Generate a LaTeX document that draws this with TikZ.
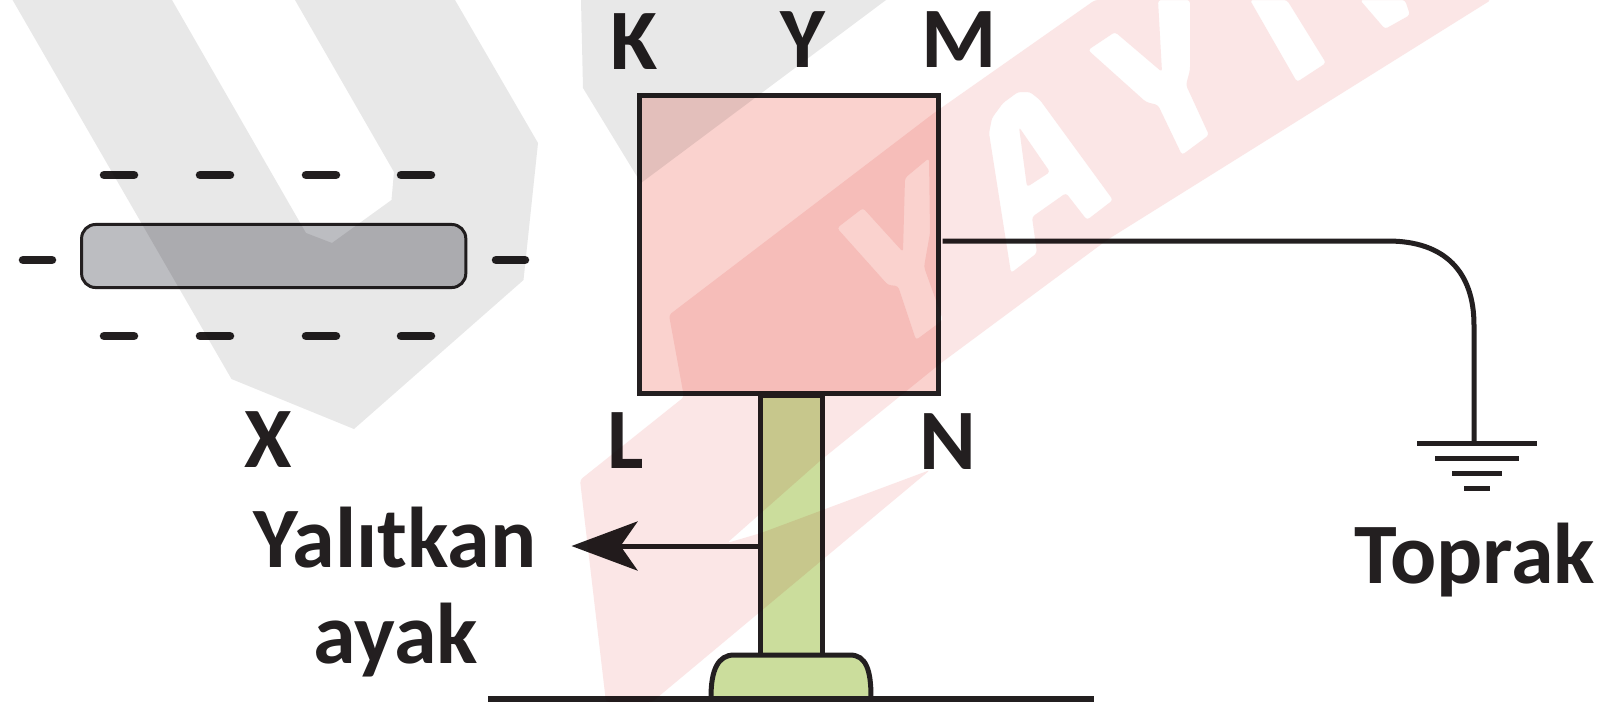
\documentclass[tikz,border=0pt]{standalone}
\usepackage{fontspec}
\setmainfont{Carlito}
\usetikzlibrary{arrows.meta}

\begin{document}
\begin{tikzpicture}[x=0.01cm,y=-0.01cm,
    label/.style={inner sep=0pt,anchor=base,text=inkblack,font=\bfseries\fontsize{24.5}{25}\selectfont},
    longlabel/.style={label},
    plate/.style={draw=inkblack,line width=0.5mm,fill=platepink,minimum width=2.98cm,minimum height=2.98cm,inner sep=0pt},
    rod/.style={draw=inkblack,line width=0.5mm,fill=rodgreen,minimum width=0.61cm,minimum height=2.59cm,inner sep=0pt},
    bar/.style={draw=inkblack,line width=0.3mm,fill=bargray,rounded corners=0.14cm,minimum width=3.84cm,minimum height=0.63cm,inner sep=0pt},
    charge/.style={inkblack,line width=0.85mm,line cap=round},
    wire/.style={inkblack,line width=0.5mm},
    stamp/.style={fill=stampgray,draw=none},
    stampred/.style={fill=stamppink,draw=none,even odd rule,rounded corners=0.3mm}]
  \definecolor{inkblack}{HTML}{231F20}
  \definecolor{platepink}{HTML}{FAD2CE}
  \definecolor{rodgreen}{HTML}{CBDD9C}
  \definecolor{bargray}{HTML}{BCBDC1}
  \definecolor{stampgray}{HTML}{E8E8E8}
  \definecolor{stamppink}{HTML}{FBE6E6}
  \useasboundingbox (0,0) rectangle (1599,702);
  \fill[white] (0,0) rectangle (1599,702);

  \node[bar](bar_x) at (273.7,256){};
  \foreach \xa in {119,215,321,416}{
    \draw[charge] (\xa-15,175) -- (\xa+15,175);
    \draw[charge] (\xa-15,336) -- (\xa+15,336);
  }
  \draw[charge] (23,260) -- (52,260);
  \draw[charge] (496,260) -- (525,260);

  \node[rod](rod) at (791.5,525.5){};
  \node[plate](plate) at (789,244.5){};
  \draw[wire,fill=rodgreen] (711,697) .. controls (711,670) and (718,655) .. (734,655)
     -- (850,655) .. controls (866,655) and (871,670) .. (871,697);
  \draw[inkblack,line width=0.6mm] (488,699) -- (1094,699);

  \node[label](lbl_k) at (634,69){K};
  \node[label](lbl_y) at (803,67){Y};
  \node[label](lbl_m) at (959,67){M};
  \node[label](lbl_l) at (626,468){L};
  \node[label](lbl_n) at (948,469){N};
  \node[label](lbl_x) at (268,467){X};
  \node[longlabel](lbl_yalitkan) at (395,567){Yalıtkan};
  \node[longlabel](lbl_ayak) at (396,663){ayak};
  \node[longlabel](lbl_toprak) at (1475,583){Toprak};

  \coordinate (arrow_tip) at (571.5,546);
  \draw[wire,-{Stealth[length=0.66cm,width=0.49cm,inset=0.17cm]}] (arrow_tip -| rod.west) -- (arrow_tip);

  \coordinate (gnd) at (1477,443.5);
  \draw[wire] ([yshift=0.035cm,xshift=0.02cm]plate.east) -- (1388,241)
     .. controls (1445,241) and (1474,272) .. (1474,325) -- (1474,443);
  \foreach \ya/\wa in {0/60,15/42,30/25,45/13}{
    \draw[inkblack,line width=0.53mm] ([xshift=-\wa*0.01cm,yshift=-\ya*0.01cm]gnd) -- ([xshift=\wa*0.01cm,yshift=-\ya*0.01cm]gnd);
  }

  \begin{scope}[blend mode=multiply]
    \fill[stamp] (12.6,0) -- (172,0) -- (306,233) -- (332,243) -- (391.5,200) -- (394,172) -- (295,0) -- (455,0)
       -- (538,143) -- (523.5,280) -- (354,429) -- (231.5,379) -- cycle;
    \fill[stamp] (581,0) -- (886,0) -- (641,183) -- (583,88) -- cycle;
    \fill[stampred] (1095,0) -- (1491,0) -- (1107,240) -- (941,363) -- (821,460) -- (727,543) -- (761,533)
       -- (930,470) -- (652,702) -- (606,702) -- (580,480) -- (684,397) -- (669,315) -- (934,113) -- cycle
       (929,158) -- (905,178) -- (903,252) -- (863,208) -- (837,228) -- (888,285) -- (898,286) -- (916,340)
       -- (943,320) -- (924,267) -- (930,233) -- cycle
       (1018,92) -- (1030,92) -- (1040,100) -- (1113,200) -- (1087,220) -- (1066,193) -- (1032,217) -- (1037,253)
       -- (1011,273) -- (989,133) -- (992,118) -- (1003,103) -- cycle
       (1019,127) -- (1050,172) -- (1027,187) -- cycle
       (1115,32) -- (1162,72) -- (1158,0) -- (1190,0) -- (1190,70) -- (1186,85) -- (1209,135) -- (1182,155)
       -- (1158,105) -- (1146,102) -- (1088,50) -- cycle
       (1250,0) -- (1297,82) -- (1326,63) -- (1287,0) -- cycle
       (1360,0) -- (1385,29) -- (1410,15) -- (1405,0) -- cycle;
  \end{scope}
\end{tikzpicture}
\end{document}
